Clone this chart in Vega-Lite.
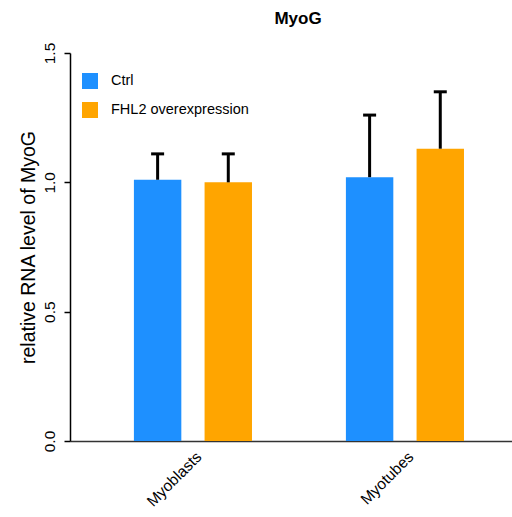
{
  "$schema": "https://vega.github.io/schema/vega-lite/v6.json",
  "width": 442,
  "height": 388,
  "autosize": {"type": "none"},
  "padding": {"left": 70, "top": 53, "right": 0, "bottom": 76},
  "title": {
    "text": "MyoG",
    "fontSize": 17,
    "fontWeight": "bold",
    "font": "Liberation Sans",
    "color": "black",
    "anchor": "middle",
    "frame": "group",
    "dx": 7,
    "offset": 14
  },
  "config": {
    "view": {"stroke": null},
    "font": "Liberation Sans"
  },
  "data": {
    "values": [
      {"cell": "Myoblasts", "condition": "Ctrl", "mean": 1.01, "upper": 1.11},
      {"cell": "Myoblasts", "condition": "FHL2 overexpression", "mean": 1.00, "upper": 1.11},
      {"cell": "Myotubes", "condition": "Ctrl", "mean": 1.02, "upper": 1.26},
      {"cell": "Myotubes", "condition": "FHL2 overexpression", "mean": 1.13, "upper": 1.35}
    ]
  },
  "encoding": {
    "x": {
      "field": "cell",
      "type": "nominal",
      "sort": ["Myoblasts", "Myotubes"],
      "scale": {"paddingInner": 0.443, "paddingOuter": 0.264, "align": 0.571},
      "axis": {
        "title": null,
        "labelAngle": -45,
        "labelAlign": "right",
        "labelBaseline": "middle",
        "labelFontSize": 15.5,
        "labelColor": "black",
        "labelPadding": 13,
        "labelOffset": 6,
        "ticks": false,
        "domainColor": "#333333",
        "domainWidth": 1.5
      }
    },
    "xOffset": {
      "field": "condition",
      "type": "nominal",
      "sort": ["Ctrl", "FHL2 overexpression"],
      "scale": {"paddingInner": 0.329, "paddingOuter": 0}
    }
  },
  "layer": [
    {
      "mark": {"type": "bar"},
      "encoding": {
        "y": {
          "field": "mean",
          "type": "quantitative",
          "scale": {"domain": [0, 1.5], "nice": false, "zero": true},
          "axis": {
            "title": "relative RNA level of MyoG",
            "titleFontSize": 19.5,
            "titleFontWeight": "normal",
            "titleColor": "black",
            "titlePadding": 4,
            "values": [0, 0.5, 1, 1.5],
            "format": ".1f",
            "labelAngle": 270,
            "labelFontSize": 15.5,
            "labelColor": "black",
            "labelPadding": 7,
            "tickSize": 6,
            "tickColor": "black",
            "tickWidth": 1.5,
            "domainColor": "black",
            "domainWidth": 1.5,
            "grid": false
          }
        },
        "color": {
          "field": "condition",
          "type": "nominal",
          "sort": ["Ctrl", "FHL2 overexpression"],
          "scale": {"range": ["#1E90FF", "#FFA500"]},
          "legend": {
            "title": null,
            "orient": "none",
            "legendX": 12,
            "legendY": 20,
            "padding": 0,
            "symbolType": "square",
            "symbolSize": 256,
            "symbolStrokeWidth": 0,
            "symbolOpacity": 1,
            "labelFontSize": 14.5,
            "labelColor": "black",
            "labelOffset": 13,
            "rowPadding": 13
          }
        }
      }
    },
    {
      "mark": {"type": "rule", "color": "black", "strokeWidth": 3},
      "encoding": {
        "y": {"field": "mean", "type": "quantitative"},
        "y2": {"field": "upper"}
      }
    },
    {
      "mark": {"type": "tick", "color": "black", "thickness": 3, "size": 13, "opacity": 1},
      "encoding": {
        "y": {"field": "upper", "type": "quantitative"}
      }
    }
  ]
}
